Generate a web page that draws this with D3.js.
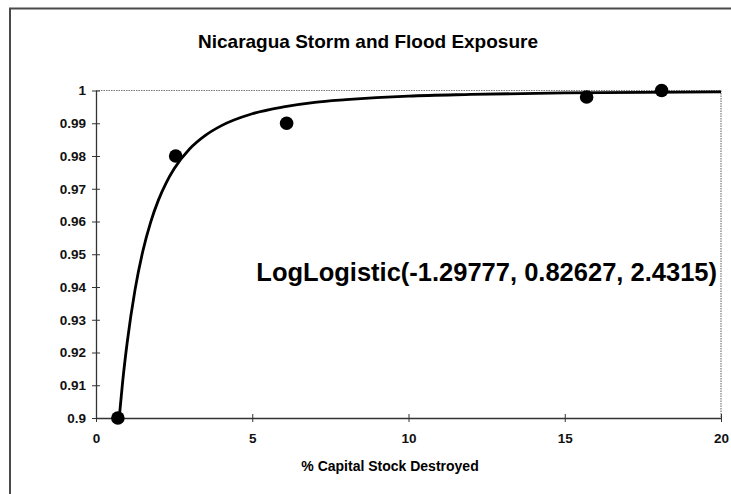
<!DOCTYPE html>
<html><head><meta charset="utf-8">
<script src="https://cdn.jsdelivr.net/npm/d3@7"></script>
<style>
html,body{margin:0;padding:0;background:#fff;}
svg{display:block;font-family:"Liberation Sans",Arial,sans-serif;}
</style></head>
<body><svg id="c" width="731" height="494"></svg>
<script>
// Observed data points
const pointsX = [0.7, 2.55, 6.1, 15.7, 18.1];
const pointsY = [0.9, 0.98, 0.99, 0.998, 1.0];
// Fitted curve, values
const curveX = [0.742, 0.85, 1.0, 1.25, 1.5, 1.75, 2.0, 2.25, 2.5, 3.0, 3.5, 4, 5, 6, 7, 8, 10, 12, 15, 20];
const curveY = [0.9, 0.9108, 0.9232, 0.9392, 0.951, 0.9598, 0.9666, 0.9719, 0.9761, 0.9822, 0.9863, 0.9892, 0.9929, 0.995, 0.9964, 0.9972, 0.9983, 0.9988, 0.9993, 0.9996];
// Axis ticks
const xTicks = [0, 5, 10, 15, 20];
const yTicks = [0.9, 0.91, 0.92, 0.93, 0.94, 0.95, 0.96, 0.97, 0.98, 0.99, 1];
const yTickLabels = ["0.9", "0.91", "0.92", "0.93", "0.94", "0.95", "0.96", "0.97", "0.98", "0.99", "1"];
const titleText = "Nicaragua Storm and Flood Exposure";
const xTitle = "% Capital Stock Destroyed";
const annotation = "LogLogistic(-1.29777, 0.82627, 2.4315)";

const svg = d3.select("#c");
const L = 96, R = 721, T = 90.5, B = 418;
const x = d3.scaleLinear().domain([0, 20]).range([L, R]);
const y = d3.scaleLinear().domain([0.9, 1]).range([B, T]);

// outer frame (chart area border, partially outside view)
svg.append("path").attr("d", `M10,500 L10,8.5 L740,8.5`)
  .attr("fill", "none").attr("stroke", "#4a4a4a").attr("stroke-width", 2);

// plot area border top/right (dotted)
svg.append("path").attr("d", `M${L},${T} L${R},${T} L${R},${B}`)
  .attr("fill", "none").attr("stroke", "#777").attr("stroke-width", 1.2).attr("stroke-dasharray", "1.5,1");

// Axes
const yAxis = d3.axisLeft(y).tickValues(yTicks)
  .tickFormat((d, i) => yTickLabels[i]).tickSizeInner(5).tickSizeOuter(0).tickPadding(5);
const gy = svg.append("g").attr("transform", `translate(${L},0)`).call(yAxis);
gy.select(".domain").attr("stroke", "#333").attr("stroke-width", 1.3);
gy.selectAll(".tick line").attr("stroke", "#333").attr("x1", 4).attr("x2", -4);
gy.selectAll("text").attr("font-size", 13.5).attr("font-weight", "bold").attr("fill", "#111")
  .attr("font-family", "Liberation Sans, Arial, sans-serif").attr("x", -10);

const xAxis = d3.axisBottom(x).tickValues(xTicks).tickFormat(d3.format("d"))
  .tickSizeInner(5).tickSizeOuter(0).tickPadding(10);
const gx = svg.append("g").attr("transform", `translate(0,${B})`).call(xAxis);
gx.select(".domain").attr("stroke", "#333").attr("stroke-width", 1.3);
gx.selectAll(".tick line").attr("stroke", "#333").attr("y1", -4).attr("y2", 4);
gx.selectAll("text").attr("font-size", 13.5).attr("font-weight", "bold").attr("fill", "#111")
  .attr("font-family", "Liberation Sans, Arial, sans-serif");

// Curve
const curveData = curveX.map((d, i) => [d, curveY[i]]);
svg.append("path").datum(curveData)
  .attr("fill", "none").attr("stroke", "#000").attr("stroke-width", 2.8)
  .attr("d", d3.line().x(d => x(d[0])).y(d => y(d[1])).curve(d3.curveMonotoneX));

// Points
svg.selectAll("circle.pt").data(pointsX.map((d, i) => [d, pointsY[i]])).enter()
  .append("circle").attr("class", "pt")
  .attr("cx", d => x(d[0])).attr("cy", d => y(d[1])).attr("r", 6.8).attr("fill", "#000");

// Title
svg.append("text").attr("x", 368).attr("y", 48).attr("text-anchor", "middle")
  .attr("font-size", 19).attr("font-weight", "bold").attr("fill", "#000").text(titleText);

// X axis title
svg.append("text").attr("x", 390).attr("y", 471).attr("text-anchor", "middle")
  .attr("font-size", 14).attr("font-weight", "bold").attr("fill", "#000").text(xTitle);

// Annotation
svg.append("text").attr("x", 717).attr("y", 281).attr("text-anchor", "end")
  .attr("font-size", 25.5).attr("font-weight", "bold").attr("fill", "#000").text(annotation);
</script></body></html>
